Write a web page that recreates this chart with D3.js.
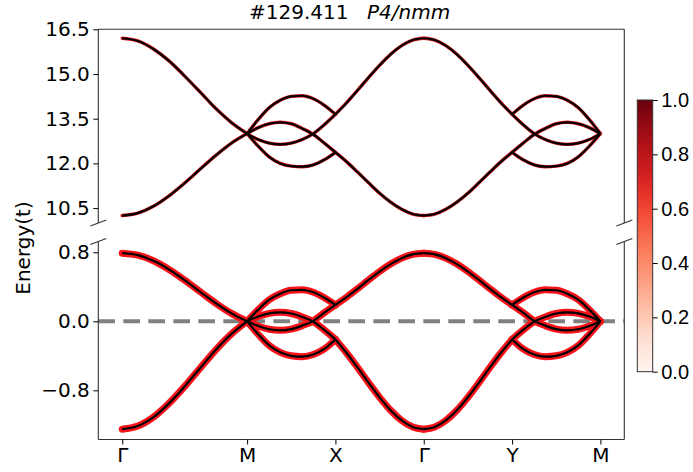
<!DOCTYPE html>
<html>
<head>
<meta charset="utf-8">
<script src="https://d3js.org/d3.v7.min.js"></script>
<style>
  body { margin: 0; background: #fff; }
  svg { font-family: "DejaVu Sans", sans-serif; }
  .tick text { font-size: 20px; fill: #000; }
  .tick line { stroke: #000; stroke-width: 1; }
</style>
</head>
<body>
<script>
// k-path
var kLabels = ["Γ", "M", "X", "Γ", "Y", "M"];
var kNodes = [0, 1.414, 2.414, 3.414, 4.414, 5.414];
var sFrac = [0, 0.125, 0.25, 0.375, 0.5, 0.625, 0.75, 0.875, 1];

// upper group of bands (energies, one row per line)
var hiGM = [[16.2, 16.11, 15.84, 15.44, 14.93, 14.39, 13.84, 13.37, 13.0],
            [10.25, 10.33, 10.56, 10.91, 11.34, 11.81, 12.27, 12.68, 13.0]];
var hiMX = [[13.0, 13.47, 13.87, 14.12, 14.25, 14.27, 14.17, 13.95, 13.65],
            [13.0, 13.2, 13.33, 13.38, 13.33, 13.17, 12.97, 12.68, 12.37],
            [13.0, 12.8, 12.68, 12.64, 12.68, 12.8, 13.0, 13.3, 13.65],
            [13.0, 12.58, 12.22, 12.0, 11.91, 11.89, 11.95, 12.12, 12.37]];
var hiXG = [[13.65, 14.03, 14.45, 14.88, 15.29, 15.66, 15.95, 16.14, 16.2],
            [12.37, 12.06, 11.71, 11.35, 11.0, 10.7, 10.46, 10.3, 10.25]];
var hiGY = [[16.2, 16.14, 15.95, 15.66, 15.29, 14.88, 14.45, 14.03, 13.65],
            [10.25, 10.3, 10.46, 10.7, 11.0, 11.35, 11.71, 12.06, 12.37]];
var hiYM = [[13.65, 13.95, 14.17, 14.27, 14.25, 14.12, 13.87, 13.47, 13.0],
            [12.37, 12.68, 12.97, 13.17, 13.33, 13.38, 13.33, 13.2, 13.0],
            [13.65, 13.3, 13.0, 12.8, 12.68, 12.64, 12.68, 12.8, 13.0],
            [12.37, 12.12, 11.95, 11.89, 11.91, 12.0, 12.22, 12.58, 13.0]];

// lower group of bands
var loGM = [[0.79, 0.767, 0.702, 0.601, 0.477, 0.342, 0.209, 0.092, 0],
            [-1.25, -1.214, -1.111, -0.951, -0.755, -0.541, -0.33, -0.146, 0]];
var loMX = [[0, 0.135, 0.25, 0.32, 0.36, 0.365, 0.336, 0.273, 0.19],
            [0, 0.055, 0.092, 0.104, 0.09, 0.05, -0.005, -0.1, -0.21],
            [0, -0.055, -0.092, -0.104, -0.09, -0.05, 0.005, 0.1, 0.19],
            [0, -0.15, -0.28, -0.36, -0.4, -0.41, -0.385, -0.32, -0.21]];
var loXG = [[0.19, 0.279, 0.377, 0.479, 0.577, 0.663, 0.732, 0.776, 0.79],
            [-0.21, -0.364, -0.534, -0.711, -0.881, -1.031, -1.149, -1.225, -1.25]];
var loGY = [[0.79, 0.776, 0.732, 0.663, 0.577, 0.479, 0.377, 0.279, 0.19],
            [-1.25, -1.225, -1.149, -1.031, -0.881, -0.711, -0.534, -0.364, -0.21]];
var loYM = [[0.19, 0.273, 0.336, 0.365, 0.36, 0.32, 0.25, 0.135, 0],
            [-0.21, -0.1, -0.005, 0.05, 0.09, 0.104, 0.092, 0.055, 0],
            [0.19, 0.1, 0.005, -0.05, -0.09, -0.104, -0.092, -0.055, 0],
            [-0.21, -0.32, -0.385, -0.41, -0.4, -0.36, -0.28, -0.15, 0]];

var hiTicks = [10.5, 12.0, 13.5, 15.0, 16.5];
var loTicks = [-0.8, 0.0, 0.8];
var cbTicks = [0, 0.2, 0.4, 0.6, 0.8, 1.0];

var width = 693, height = 472;
var left = 98.3, right = 624.3;

var svg = d3.select("body").append("svg")
    .attr("width", width).attr("height", height);

var x = d3.scaleLinear().domain([-0.2707, 5.6847]).range([left, right]);
var yHi = d3.scaleLinear().domain([10.0, 16.5]).range([223, 29.3]);
var yLo = d3.scaleLinear().domain([-1.37, 0.925]).range([439.5, 241.5]);

// zero line
svg.append("line")
    .attr("x1", left).attr("x2", right)
    .attr("y1", yLo(0)).attr("y2", yLo(0))
    .attr("stroke", "#808080").attr("stroke-width", 4)
    .attr("stroke-dasharray", "16.7,8.3");

function drawGroup(y, segs, col, wide) {
    var line = d3.line().curve(d3.curveMonotoneX)
        .x(function(d) { return x(d[0]); })
        .y(function(d) { return y(d[1]); });
    var paths = [];
    segs.forEach(function(seg, i) {
        var k0 = kNodes[i], k1 = kNodes[i + 1];
        seg.forEach(function(band) {
            paths.push(band.map(function(e, j) { return [k0 + sFrac[j] * (k1 - k0), e]; }));
        });
    });
    var g = svg.append("g");
    g.selectAll(".outer").data(paths).enter().append("path")
        .attr("d", line).attr("fill", "none")
        .attr("stroke", col).attr("stroke-width", wide)
        .attr("stroke-linecap", "round").attr("stroke-linejoin", "round");
    g.selectAll(".inner").data(paths).enter().append("path")
        .attr("d", line).attr("fill", "none")
        .attr("stroke", "#000").attr("stroke-width", 2.2)
        .attr("stroke-linejoin", "round");
}

drawGroup(yHi, [hiGM, hiMX, hiXG, hiGY, hiYM], "#d7191c", 3.4);
drawGroup(yLo, [loGM, loMX, loXG, loGY, loYM], "#f5141a", 7);

// spines
var spine = "#333";
function seg(x1, y1, x2, y2) {
    svg.append("line").attr("x1", x1).attr("y1", y1).attr("x2", x2).attr("y2", y2)
        .attr("stroke", spine).attr("stroke-width", 1.1);
}
seg(left, 29.3, right, 29.3);
seg(left, 29.3, left, 223);
seg(right, 29.3, right, 223);
seg(left, 241.5, left, 439.5);
seg(right, 241.5, right, 439.5);
seg(left, 439.5, right, 439.5);
// break marks
[left, right].forEach(function(xx) {
    seg(xx - 8, 226, xx + 8, 220);
    seg(xx - 8, 244.5, xx + 8, 238.5);
});

// axes
var aHi = svg.append("g").attr("transform", "translate(" + left + ",0)")
    .call(d3.axisLeft(yHi).tickValues(hiTicks).tickFormat(d3.format(".1f")).tickSize(5).tickPadding(3.5));
var aLo = svg.append("g").attr("transform", "translate(" + left + ",0)")
    .call(d3.axisLeft(yLo).tickValues(loTicks).tickFormat(d3.format(".1f")).tickSize(5).tickPadding(3.5));
var aX = svg.append("g").attr("transform", "translate(0,439.5)")
    .call(d3.axisBottom(x).tickValues(kNodes).tickFormat(function(d, i) { return kLabels[i]; }).tickSize(5).tickPadding(3));
[aHi, aLo, aX].forEach(function(a) { a.select(".domain").remove(); a.selectAll("text").style("font-family", "DejaVu Sans"); });

// y label
svg.append("text")
    .attr("transform", "translate(30,248) rotate(-90)")
    .attr("text-anchor", "middle")
    .style("font-size", "20px")
    .text("Energy(t)");

// title
var title = svg.append("text").attr("y", 19).style("font-size", "20px");
title.append("tspan").attr("x", 249).text("#129.411");
title.append("tspan").attr("x", 367).style("font-style", "italic").text("P4/nmm");

// colorbar
var cbX = 637.3, cbW = 15.4, cbTop = 100, cbBot = 371.7;
var grad = svg.append("defs").append("linearGradient").attr("id", "reds")
    .attr("x1", 0).attr("y1", 1).attr("x2", 0).attr("y2", 0);
d3.range(0, 1.001, 0.05).forEach(function(t) {
    grad.append("stop").attr("offset", t).attr("stop-color", d3.interpolateReds(t));
});
svg.append("rect").attr("x", cbX).attr("y", cbTop).attr("width", cbW).attr("height", cbBot - cbTop)
    .attr("fill", "url(#reds)").attr("stroke", "#333").attr("stroke-width", 1);
var cb = d3.scaleLinear().domain([0, 1]).range([cbBot, cbTop]);
var aCb = svg.append("g").attr("transform", "translate(" + (cbX + cbW) + ",0)")
    .call(d3.axisRight(cb).tickValues(cbTicks).tickFormat(d3.format(".1f")).tickSize(5).tickPadding(3.5));
aCb.select(".domain").remove();
</script>
</body>
</html>
